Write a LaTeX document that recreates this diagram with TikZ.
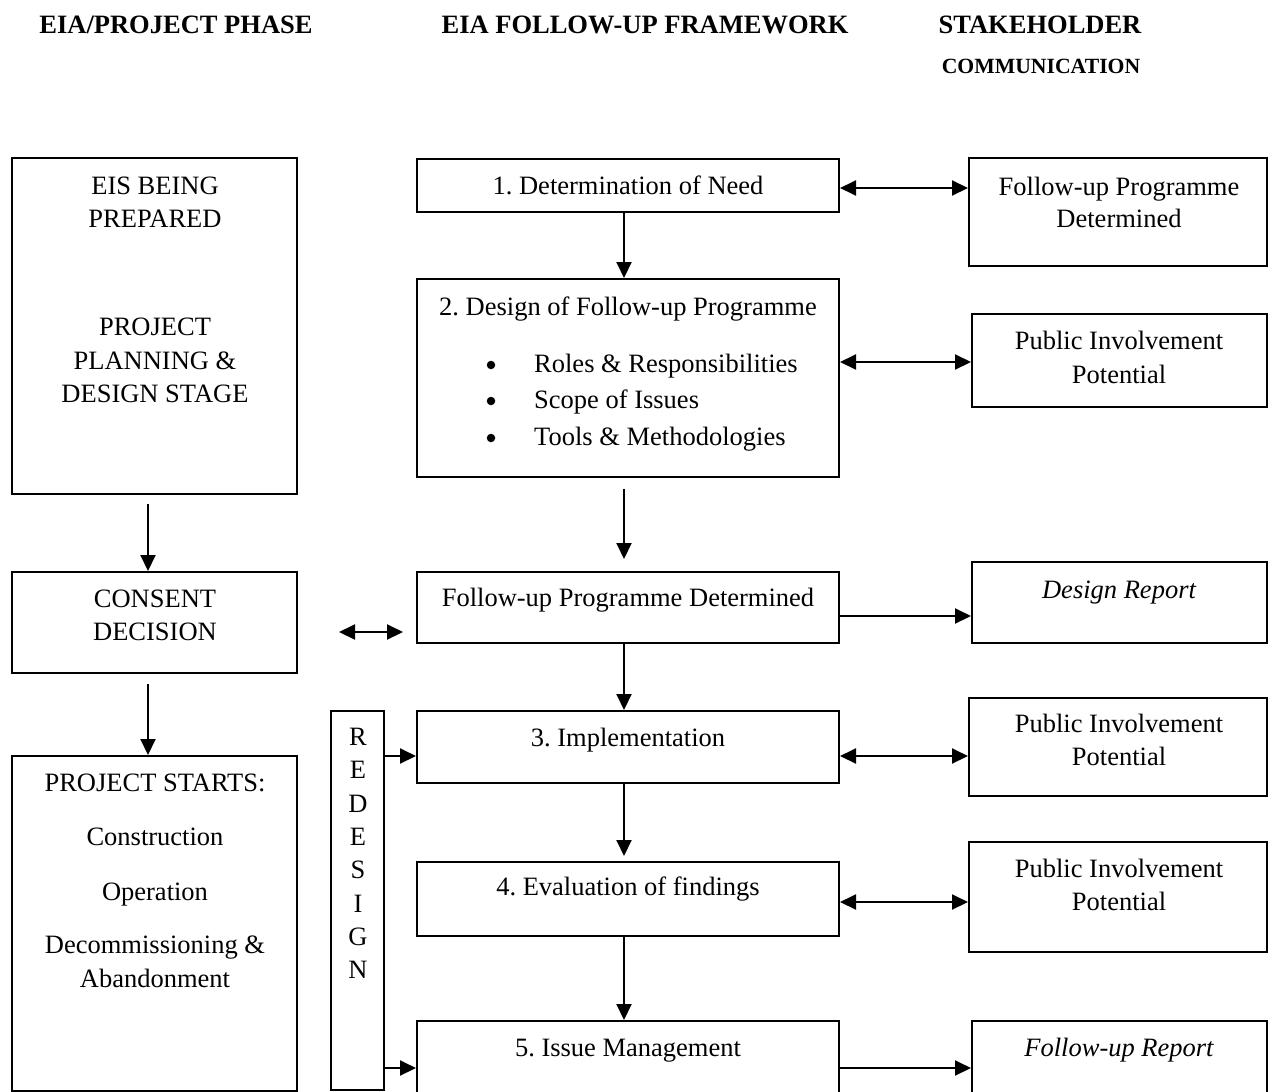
\documentclass[tikz,border=0pt]{standalone}
\usepackage{fontspec}
\setmainfont{Liberation Serif}
\usetikzlibrary{arrows.meta,fit}
\frenchspacing
\begin{document}
\begin{tikzpicture}[x=1pt,y=-1pt,
  box/.style={draw,line width=2pt,inner sep=0pt},
  txt/.style={inner sep=0pt,anchor=base,font=\fontsize{26.5}{33}\selectfont},
  hdr/.style={inner sep=0pt,anchor=base,font=\fontsize{26.5}{33}\selectfont\bfseries},
  dot/.style={circle,fill,inner sep=0pt,minimum size=8.5pt},
  arr/.style={line width=2pt,-{Triangle[length=16pt,width=15pt]}},
  darr/.style={line width=2pt,{Triangle[length=16pt,width=15pt]}-{Triangle[length=16pt,width=15pt]}}]
\useasboundingbox (0,0) rectangle (1274,1092);
\clip (0,0) rectangle (1274,1092);
% headers
\node[hdr] (h1) at (176,33) {EIA/PROJECT PHASE};
\node[hdr] (h2) at (645,33) {EIA FOLLOW-UP FRAMEWORK};
\node[hdr] (h3) at (1040,33) {STAKEHOLDER};
\node[hdr,font=\fontsize{21.7}{26}\selectfont\bfseries] (h4) at (1041,73) {COMMUNICATION};
% left column boxes
\node[box,fit={(12,158) (297,494)}] (eis) {};
\node[box,fit={(12,572) (297,673)}] (consent) {};
\node[box,fit={(12,756) (297,1091)}] (starts) {};
% middle column boxes
\node[box,fit={(417,159) (839,212)}] (b1) {};
\node[box,fit={(417,279) (839,477)}] (b2) {};
\node[box,fit={(417,572) (839,643)}] (fpd) {};
\node[box,fit={(417,711) (839,783)}] (b3) {};
\node[box,fit={(417,862) (839,936)}] (b4) {};
\node[box,fit={(417,1021) (839,1120)}] (b5) {};
\node[box,fit={(331,711) (384,1090)}] (redesign) {};
% right column boxes
\node[box,fit={(969,158) (1267,266)}] (r1) {};
\node[box,fit={(972,314) (1267,407)}] (r2) {};
\node[box,fit={(972,562) (1267,643)}] (r3) {};
\node[box,fit={(969,698) (1267,796)}] (r4) {};
\node[box,fit={(969,842) (1267,952)}] (r5) {};
\node[box,fit={(972,1021) (1267,1120)}] (r6) {};
% texts left
\node[txt] (t1) at (155,194) {EIS BEING};
\node[txt] (t2) at (155,227) {PREPARED};
\node[txt] (t3) at (155,335) {PROJECT};
\node[txt] (t4) at (155,369) {PLANNING \&};
\node[txt] (t5) at (155,402) {DESIGN STAGE};
\node[txt] (t6) at (155,607) {CONSENT};
\node[txt] (t7) at (155,640) {DECISION};
\node[txt] (t8) at (155,791) {PROJECT STARTS:};
\node[txt] (t9) at (155,845) {Construction};
\node[txt] (t10) at (155,900) {Operation};
\node[txt] (t11) at (155,953) {Decommissioning \&};
\node[txt] (t12) at (155,987) {Abandonment};
% texts middle
\node[txt] (m1) at (628,194) {1. Determination of Need};
\node[txt] (m2) at (628,315) {2. Design of Follow-up Programme};
\node[dot] (bu1) at (491,365) {};
\node[dot] (bu2) at (491,401) {};
\node[dot] (bu3) at (491,438) {};
\node[txt,anchor=base west] (m3) at (534,372) {Roles \& Responsibilities};
\node[txt,anchor=base west] (m4) at (534,408) {Scope of Issues};
\node[txt,anchor=base west] (m5) at (534,445) {Tools \& Methodologies};
\node[txt] (m6) at (628,606) {Follow-up Programme Determined};
\node[txt] (m7) at (628,746) {3. Implementation};
\node[txt] (m8) at (628,895) {4. Evaluation of findings};
\node[txt] (m9) at (628,1056) {5. Issue Management};
% redesign letters
\node[txt] (d1) at (358,745) {R};
\node[txt] (d2) at (358,778) {E};
\node[txt] (d3) at (358,812) {D};
\node[txt] (d4) at (358,845) {E};
\node[txt] (d5) at (358,878) {S};
\node[txt] (d6) at (358,912) {I};
\node[txt] (d7) at (358,945) {G};
\node[txt] (d8) at (358,978) {N};
% texts right
\node[txt] (s1) at (1119,195) {Follow-up Programme};
\node[txt] (s2) at (1119,227) {Determined};
\node[txt] (s3) at (1119,349) {Public Involvement};
\node[txt] (s4) at (1119,383) {Potential};
\node[txt] (s5) at (1119,598) {\itshape Design Report};
\node[txt] (s6) at (1119,732) {Public Involvement};
\node[txt] (s7) at (1119,765) {Potential};
\node[txt] (s8) at (1119,877) {Public Involvement};
\node[txt] (s9) at (1119,910) {Potential};
\node[txt] (s10) at (1119,1056) {\itshape Follow-up Report};
% helper coordinates
\coordinate (lx) at (148,0);
\coordinate (ax) at (624,0);
\coordinate (ya) at (0,188);
\coordinate (yb) at (0,362);
\coordinate (yc) at (0,616);
\coordinate (yd) at (0,756);
\coordinate (ye) at (0,902);
\coordinate (yf) at (0,1068);
\coordinate (yl) at (0,632);
% left arrows
\draw[arr,shorten <=9pt] (eis.south -| lx) -- (consent.north -| lx);
\draw[arr,shorten <=10pt] (consent.south -| lx) -- (starts.north -| lx);
\draw[darr,shorten <=41pt,shorten >=13pt] (consent.east |- yl) -- (fpd.west |- yl);
% middle arrows
\draw[arr] (b1.south -| ax) -- (b2.north -| ax);
\draw[arr,shorten <=11pt,shorten >=12pt] (b2.south -| ax) -- (fpd.north -| ax);
\draw[arr] (fpd.south -| ax) -- (b3.north -| ax);
\draw[arr,shorten >=5pt] (b3.south -| ax) -- (b4.north -| ax);
\draw[arr] (b4.south -| ax) -- (b5.north -| ax);
% redesign arrows
\draw[arr] (redesign.east |- yd) -- (b3.west |- yd);
\draw[arr] (redesign.east |- yf) -- (b5.west |- yf);
% right arrows
\draw[darr] (b1.east |- ya) -- (r1.west |- ya);
\draw[darr] (b2.east |- yb) -- (r2.west |- yb);
\draw[arr] (fpd.east |- yc) -- (r3.west |- yc);
\draw[darr] (b3.east |- yd) -- (r4.west |- yd);
\draw[darr] (b4.east |- ye) -- (r5.west |- ye);
\draw[arr] (b5.east |- yf) -- (r6.west |- yf);
\end{tikzpicture}
\end{document}
